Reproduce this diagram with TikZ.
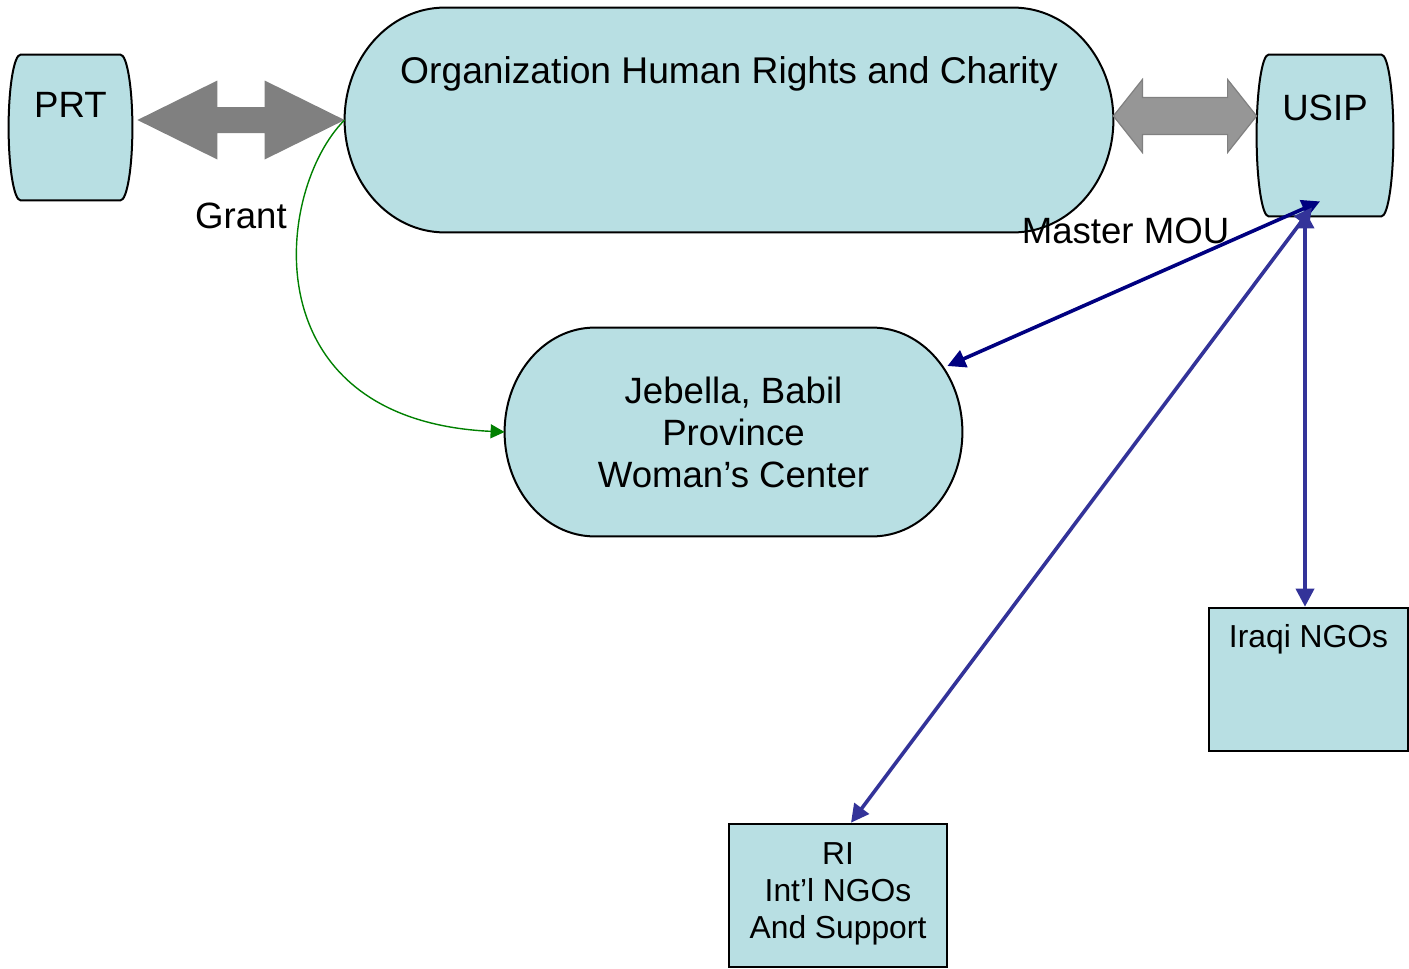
\documentclass[tikz,border=0pt]{standalone}
\usepackage{fontspec}
\setmainfont{Liberation Sans}
\usetikzlibrary{arrows.meta,positioning,calc,backgrounds}
\definecolor{BoxFill}{HTML}{B8DFE3}
\definecolor{LinkNavy}{HTML}{000080}
\definecolor{LinkBlue}{HTML}{333399}
\definecolor{GrantGreen}{HTML}{008000}
\definecolor{FatDark}{HTML}{808080}
\definecolor{FatLight}{HTML}{969696}
\tikzset{>=Stealth,hold/.style 2 args={inner sep=0,minimum width=#1*0.5pt,minimum height=#2*0.5pt},
 shell/.style={draw=black,line width=1pt,fill=BoxFill},
 sqbox/.style={draw=black,line width=1.3pt,fill=BoxFill,align=center},
 boxtext/.style={inner sep=0,align=center,font=\fontsize{15.9}{18.5}\selectfont},
 tag/.style={inner sep=0,align=center,font=\fontsize{18.3}{21}\selectfont},
 link/.style={line width=1.8pt,{Triangle[length=9pt,width=9pt]}-{Triangle[length=9pt,width=9pt]}}}
% wide two-headed block arrow: style, left tip, right tip, head length, head half, shaft half
\newcommand\fatarrow[6]{\path[#1] let \p1=(#2),\p2=(#3) in (\p1)--(\x1+#4,\y1+#5)--(\x1+#4,\y1+#6)
 --(\x2-#4,\y1+#6)--(\x2-#4,\y1+#5)--(\p2)--(\x2-#4,\y1-#5)--(\x2-#4,\y1-#6)--(\x1+#4,\y1-#6)
 --(\x1+#4,\y1-#5)--cycle;}
\begin{document}
\begin{tikzpicture}[x=0.5pt,y=-0.5pt]
\useasboundingbox (0,0) rectangle (1409,969);
\node[hold={123}{145}] (prt) at (70.5,127.5) {};
\node[hold={136}{161}] (usip) at (1325,135.5) {};
\node[hold={768}{224}] (org) at (729,120) {};
\node[hold={457}{208},tag] (jeb) at (733.5,432) {Jebella, Babil\\Province\\Woman’s Center};
\node[sqbox,hold={199}{143}] (iraqi) at (1308.5,679.5) {};
\node[sqbox,hold={218}{143}] (ri) at (838,895.5) {};
\node[tag,below=18.5pt of prt.north] (prttext) {PRT};
\node[tag,below=20pt of usip.north] (usiptext) {USIP};
\node[tag,below=24.5pt of org.north,font=\fontsize{18.6}{21}\selectfont] (orgtext) {Organization Human Rights and Charity};
\node[boxtext,below=8.5pt of iraqi.north] (iraqitext) {Iraqi NGOs};
\node[boxtext,below=10pt of ri.north] (ritext) {RI\\Int’l NGOs\\And Support};
\node[tag,anchor=base] (grant) at (241,228) {Grant};
\node[tag,anchor=base] (mou) at (1125.5,243) {Master MOU};
\begin{pgfonlayer}{background}
\foreach \b/\r in {prt/12,usip/12,org/100,jeb/90}
 \filldraw[shell] let \p1=(\b.north east),\p2=(\b.south west),\n1={(\y1-\y2)/2} in
 (\x1-\r*0.5pt,\y1) arc[start angle=90,end angle=-90,x radius=\r*0.5pt,y radius=\n1*1pt]
 --(\x2+\r*0.5pt,\y2) arc[start angle=270,end angle=90,x radius=\r*0.5pt,y radius=\n1*1pt]--cycle;
\end{pgfonlayer}
\fatarrow{fill=FatDark}{$(prt.east |- org.west)+(5,0)$}{org.west}{40pt}{19.75pt}{6.5pt}
\fatarrow{fill=FatLight,draw=FatDark,line width=0.6pt}{$(org.east)+(0,-4)$}{$(usip.west |- org.east)+(0,-4)$}{14.5pt}{18.25pt}{9.25pt}
\draw[GrantGreen,line width=0.7pt,-{Triangle[length=7pt,width=7pt]}] (org.west) .. controls +(-70,70) and +(-255,-12) .. (jeb.west);
\draw[link,LinkNavy] ($(usip.south)+(-5,-15)$) -- ($(jeb.east)+(-15,-66)$);
\draw[link,LinkBlue] ($(usip.south)+(-13,-9)$) -- ($(ri.north)+(13,0)$);
\draw[link,LinkBlue] ($(usip.south)+(-20,-6)$) coordinate (drop) -- (drop |- iraqi.north);
\end{tikzpicture}
\end{document}
